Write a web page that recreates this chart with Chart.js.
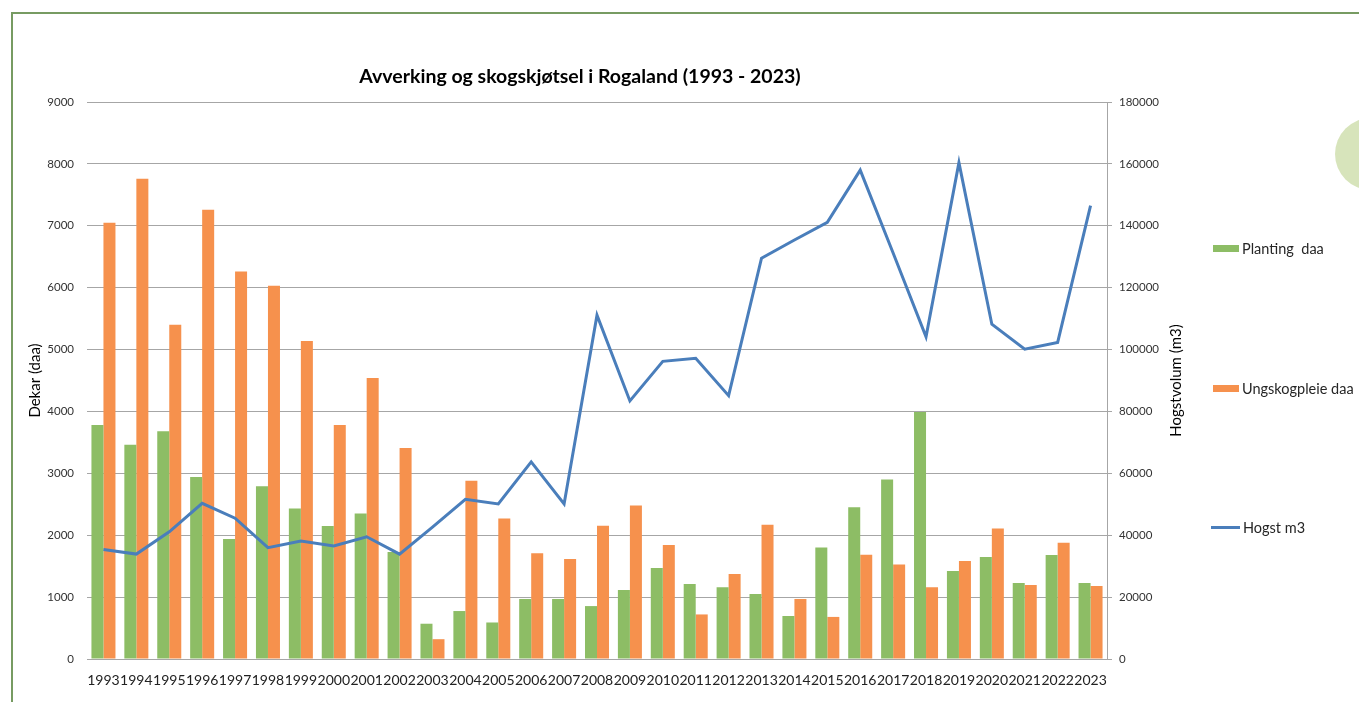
<!DOCTYPE html>
<html>
<head>
<meta charset="utf-8">
<script src="https://cdn.jsdelivr.net/npm/chart.js@4.4.1/dist/chart.umd.min.js"></script>
<style>
  body { margin: 0; background: #fff; font-family: Lato, sans-serif; }
  #wrap { position: relative; width: 1359px; height: 702px; overflow: hidden; }
  #frame { position: absolute; left: 11px; top: 12px; width: 1500px; height: 900px;
    border-left: 2px solid #779b62; border-top: 2px solid #779b62; }
  #dot { position: absolute; left: 1335px; top: 118px; width: 72px; height: 72px;
    border-radius: 50%; background: #d7e4bb; }
  #chart { position: absolute; left: 0; top: 0; }
  .lg { position: absolute; left: 1211px; height: 20px; display: flex; align-items: center;
    font-size: 14.5px; color: #262626; white-space: pre; }
  .lg span.sw { display: inline-block; margin-right: 3px; }
</style>
</head>
<body>
<div id="wrap">
  <div id="frame"></div>
  <div id="dot"></div>
  <canvas id="chart" width="1359" height="702"></canvas>
  <div id="legend"></div>
</div>
<script>
// år
const years = [1993, 1994, 1995, 1996, 1997, 1998, 1999, 2000, 2001, 2002, 2003,
  2004, 2005, 2006, 2007, 2008, 2009, 2010, 2011, 2012, 2013, 2014, 2015, 2016,
  2017, 2018, 2019, 2020, 2021, 2022, 2023];

// dekar
const planting = [3780, 3460, 3680, 2940, 1940, 2790, 2430, 2150, 2350, 1730, 570,
  775, 590, 970, 970, 855, 1115, 1470, 1210, 1160, 1050, 695, 1800, 2450,
  2900, 3990, 1420, 1650, 1230, 1680, 1230];
const ungskogpleie = [7050, 7760, 5400, 7260, 6260, 6030, 5140, 3780, 4540, 3410, 320,
  2880, 2270, 1710, 1615, 2155, 2480, 1840, 720, 1375, 2170, 970, 680, 1685,
  1525, 1160, 1585, 2110, 1195, 1880, 1180];

// m3
const hogst = [35400, 33900, 41100, 50300, 45500, 36000, 38100, 36500, 39500, 33900, 42600,
  51600, 50100, 63700, 50100, 111100, 83400, 96200, 97200, 85100, 129500, 135400, 141100, 158000,
  131200, 104100, 160400, 108200, 100100, 102300, 146500];

const seriesNames = ["Planting  daa", "Ungskogpleie daa", "Hogst m3"];
const leftTicks = { min: 0, max: 9000, step: 1000 };
const rightTicks = { min: 0, max: 180000, step: 20000 };

const GRID = "#a6a6a6";
Chart.defaults.font.family = "Lato, 'Noto Sans', sans-serif";
Chart.defaults.color = "#333";

// høyre aksetittel leses nedenfra og opp, som i Excel
const rightTitle = {
  id: "rightTitle",
  afterDraw(chart) {
    const { ctx, chartArea } = chart;
    ctx.save();
    ctx.translate(chartArea.right + 69, (chartArea.top + chartArea.bottom) / 2);
    ctx.rotate(-Math.PI / 2);
    ctx.font = "15px Lato";
    ctx.fillStyle = "#000";
    ctx.textAlign = "center";
    ctx.textBaseline = "middle";
    ctx.fillText("Hogstvolum (m3)", 0, 0);
    ctx.restore();
  }
};

const plain = (v) => String(v);

const chart = new Chart(document.getElementById("chart"), {
  type: "bar",
  data: {
    labels: years,
    datasets: [
      {
        type: "line",
        label: seriesNames[2],
        data: hogst,
        yAxisID: "y1",
        borderColor: "#4a7ebb",
        backgroundColor: "#4a7ebb",
        borderWidth: 3,
        pointRadius: 0,
        tension: 0,
        order: 0
      },
      {
        label: seriesNames[0],
        data: planting,
        yAxisID: "y",
        backgroundColor: "#8dbd65",
        categoryPercentage: 0.73,
        barPercentage: 1,
        order: 1
      },
      {
        label: seriesNames[1],
        data: ungskogpleie,
        yAxisID: "y",
        backgroundColor: "#f6914d",
        categoryPercentage: 0.73,
        barPercentage: 1,
        order: 1
      }
    ]
  },
  options: {
    responsive: false,
    animation: false,
    devicePixelRatio: 1,
    layout: { padding: { top: 65, right: 199, left: 0, bottom: 0 } },
    plugins: {
      legend: { display: false },
      tooltip: { enabled: false },
      title: {
        display: true,
        text: "Avverking og skogskjøtsel i Rogaland (1993 - 2023)",
        color: "#000",
        font: { size: 19.5, weight: "bold" },
        padding: { top: 0, bottom: 13.6 }
      }
    },
    scales: {
      x: {
        offset: true,
        grid: { display: false },
        border: { display: true, color: GRID },
        ticks: { autoSkip: false, maxRotation: 0, minRotation: 0, padding: 5,
          color: "#222", font: { size: 14 } },
        afterFit(s) { s.height = 43; }
      },
      y: {
        position: "left",
        min: leftTicks.min,
        max: leftTicks.max,
        ticks: { stepSize: leftTicks.step, padding: 13, font: { size: 11.5 }, callback: plain },
        grid: { color: GRID, drawTicks: false },
        border: { display: false },
        title: { display: true, text: "Dekar (daa)", color: "#000",
          font: { size: 15 }, padding: { top: 26, bottom: 0 } },
        afterFit(s) { s.width = 87; }
      },
      y1: {
        position: "right",
        min: rightTicks.min,
        max: rightTicks.max,
        ticks: { stepSize: rightTicks.step, padding: 7, font: { size: 11.5 }, callback: plain },
        grid: { drawOnChartArea: false, drawTicks: true, tickLength: 5, color: GRID },
        border: { display: true, color: GRID },
        afterFit(s) { s.width = 53; }
      }
    }
  },
  plugins: [rightTitle]
});

// legende til høyre, bygget fra datasettene
const legendY = [248, 388, 527];
const legendOrder = [1, 2, 0];
const lg = document.getElementById("legend");
legendOrder.forEach((di, i) => {
  const ds = chart.data.datasets[di];
  const row = document.createElement("div");
  row.className = "lg";
  row.style.top = (legendY[i] - 10) + "px";
  const sw = document.createElement("span");
  sw.className = "sw";
  if (ds.type === "line") {
    sw.style.width = "29px"; sw.style.height = "3px"; sw.style.background = ds.borderColor;
  } else {
    sw.style.width = "26px"; sw.style.height = "7px"; sw.style.background = ds.backgroundColor;
    sw.style.marginLeft = "2px";
  }
  row.appendChild(sw);
  row.appendChild(document.createTextNode(ds.label));
  lg.appendChild(row);
});
</script>
</body>
</html>
